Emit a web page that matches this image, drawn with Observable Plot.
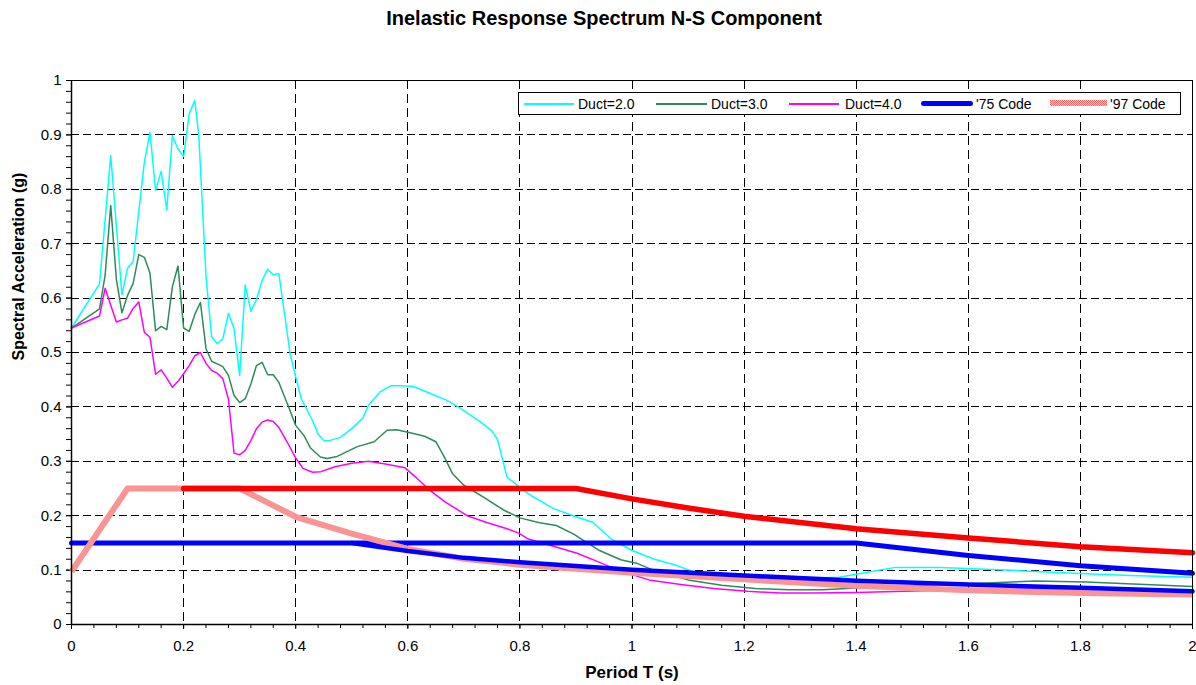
<!DOCTYPE html>
<html>
<head>
<meta charset="utf-8">
<script src="https://cdn.jsdelivr.net/npm/d3@7"></script>
<script src="https://cdn.jsdelivr.net/npm/@observablehq/plot@0.6"></script>
<style>
  html, body { margin: 0; padding: 0; background: #fff; }
  #wrap { position: relative; width: 1196px; height: 685px; font-family: "Liberation Sans", Arial, sans-serif; }
  #title { position: absolute; left: 0; top: 6px; width: 1196px; padding-left: 12px; box-sizing: border-box; text-align: center;
           font-weight: bold; font-size: 20px; line-height: 24px; color: #000; }
  #chart { position: absolute; left: 0; top: 38px; }
  #legend { position: absolute; left: 518px; top: 92px; width: 663px; height: 23px; box-sizing: border-box;
            border: 1px solid #000; background: #fff; font-size: 14px; color: #000; }
  .sw { position: absolute; }
  .lt { position: absolute; top: 2px; line-height: 18px; white-space: nowrap; }
</style>
</head>
<body>
<div id="wrap">
  <div id="title">Inelastic Response Spectrum N-S Component</div>
  <div id="chart"></div>
  <div id="legend"></div>
</div>
<script>
// ---- Data (period T in s, spectral acceleration in g) ----
const duct2 = [
  [0,0.545],[0.05,0.626],[0.07,0.862],[0.09,0.606],[0.10,0.655],[0.11,0.667],[0.13,0.85],[0.14,0.905],
  [0.15,0.798],[0.16,0.833],[0.17,0.762],[0.18,0.899],[0.19,0.874],[0.20,0.860],[0.21,0.939],[0.22,0.963],
  [0.227,0.90],[0.24,0.64],[0.25,0.529],[0.26,0.516],[0.27,0.525],[0.28,0.572],[0.29,0.544],[0.30,0.458],
  [0.31,0.624],[0.32,0.576],[0.33,0.597],[0.34,0.632],[0.35,0.653],[0.36,0.643],[0.37,0.645],[0.39,0.498],
  [0.40,0.455],[0.41,0.415],[0.43,0.375],[0.44,0.350],[0.45,0.338],[0.46,0.338],[0.48,0.344],[0.50,0.360],
  [0.52,0.380],[0.53,0.403],[0.55,0.427],[0.57,0.439],[0.59,0.439],[0.61,0.4375],[0.635,0.427],[0.67,0.412],
  [0.69,0.400],[0.73,0.372],[0.75,0.356],[0.76,0.340],[0.777,0.271],[0.80,0.252],[0.82,0.237],[0.86,0.213],
  [0.895,0.200],[0.93,0.188],[0.962,0.158],[1.0,0.136],[1.04,0.120],[1.075,0.110],[1.11,0.097],[1.18,0.090],
  [1.27,0.084],[1.37,0.087],[1.42,0.096],[1.47,0.105],[1.55,0.105],[1.62,0.102],[1.69,0.099],[1.75,0.096],
  [1.82,0.093],[1.89,0.090],[2.0,0.087]
];
const duct3 = [
  [0,0.545],[0.05,0.580],[0.06,0.642],[0.07,0.770],[0.08,0.635],[0.09,0.573],[0.10,0.605],[0.11,0.627],
  [0.12,0.680],[0.13,0.675],[0.14,0.646],[0.15,0.540],[0.16,0.548],[0.17,0.542],[0.18,0.621],[0.19,0.659],
  [0.20,0.545],[0.21,0.539],[0.22,0.570],[0.23,0.592],[0.24,0.507],[0.25,0.484],[0.26,0.479],[0.27,0.474],
  [0.28,0.458],[0.29,0.421],[0.30,0.408],[0.31,0.415],[0.32,0.442],[0.33,0.476],[0.34,0.482],[0.35,0.459],
  [0.36,0.459],[0.37,0.445],[0.39,0.393],[0.40,0.366],[0.415,0.347],[0.426,0.325],[0.444,0.308],[0.456,0.305],
  [0.474,0.309],[0.51,0.327],[0.54,0.336],[0.563,0.357],[0.58,0.358],[0.61,0.351],[0.63,0.346],[0.65,0.336],
  [0.665,0.308],[0.68,0.277],[0.70,0.256],[0.735,0.234],[0.77,0.211],[0.80,0.196],[0.835,0.187],[0.865,0.182],
  [0.896,0.166],[0.914,0.154],[0.94,0.137],[0.98,0.119],[1.01,0.112],[1.04,0.099],[1.10,0.082],[1.16,0.072],
  [1.22,0.066],[1.28,0.064],[1.34,0.064],[1.40,0.067],[1.55,0.0735],[1.60,0.075],[1.72,0.080],[1.81,0.078],
  [2.0,0.070]
];
const duct4 = [
  [0,0.545],[0.05,0.567],[0.06,0.618],[0.08,0.556],[0.09,0.560],[0.10,0.563],[0.11,0.581],[0.12,0.593],
  [0.13,0.537],[0.14,0.528],[0.15,0.460],[0.16,0.468],[0.17,0.453],[0.18,0.436],[0.19,0.447],[0.20,0.461],
  [0.21,0.476],[0.22,0.494],[0.23,0.500],[0.24,0.480],[0.25,0.467],[0.26,0.462],[0.27,0.452],[0.28,0.414],
  [0.29,0.315],[0.30,0.312],[0.31,0.320],[0.32,0.338],[0.33,0.360],[0.34,0.372],[0.35,0.376],[0.36,0.373],
  [0.37,0.362],[0.385,0.335],[0.40,0.306],[0.413,0.287],[0.43,0.280],[0.445,0.281],[0.47,0.290],[0.50,0.2965],
  [0.53,0.300],[0.56,0.295],[0.595,0.288],[0.614,0.271],[0.64,0.246],[0.667,0.225],[0.706,0.200],[0.742,0.187],
  [0.777,0.176],[0.798,0.168],[0.815,0.157],[0.863,0.143],[0.902,0.131],[0.938,0.116],[0.975,0.100],[1.03,0.082],
  [1.087,0.0735],[1.146,0.066],[1.206,0.061],[1.265,0.058],[1.32,0.058],[1.40,0.059],[1.59,0.064],[1.8,0.066],
  [2.0,0.063]
];
const code75 = [[0,0.15],[1.4,0.15],[1.6,0.127],[1.8,0.108],[2.0,0.094]];
const code75b = [[0.5,0.15],[0.6,0.135],[0.7,0.1225],[0.8,0.1145],[1.0,0.1005],[1.2,0.09],[1.4,0.0805],[1.6,0.0735],[1.8,0.0675],[2.0,0.061]];
const code97 = [[0,0.0975],[0.1,0.25],[0.3,0.25],[0.4,0.198],[0.5,0.167],[0.6,0.139],[0.7,0.121],[0.8,0.110],[1.0,0.095],[1.2,0.083],[1.4,0.071],[1.6,0.063],[1.8,0.058],[2.0,0.055]];
const code97b = [[0.2,0.25],[0.9,0.25],[1.0,0.231],[1.1,0.214],[1.2,0.199],[1.4,0.176],[1.6,0.159],[1.8,0.143],[2.0,0.132]];

const xTicks = [0,0.2,0.4,0.6,0.8,1.0,1.2,1.4,1.6,1.8,2.0];
const yTicks = [0,0.1,0.2,0.3,0.4,0.5,0.6,0.7,0.8,0.9,1.0];
const xMinor = d3.range(0, 51).map(i => i * 0.04);
const yMinor = d3.range(0, 51).map(i => i * 0.02);

const seriesNames = ["Duct=2.0","Duct=3.0","Duct=4.0","'75 Code","'97 Code"];
const seriesColors = ["#00ffff","#2e8b57","#ff00ff","#0000ff","#ff7a7a"];

const PATTERN_PLACEHOLDER = "#fe8081";
const fmt = d => String(+d.toFixed(1));
const XY = {x: d => d[0], y: d => d[1]};

const chart = Plot.plot({
  width: 1196,
  height: 647,
  marginLeft: 71,
  marginRight: 4,
  marginTop: 42,
  marginBottom: 61,
  x: {domain: [0, 2]},
  y: {domain: [0, 1]},
  style: {fontFamily: "'Liberation Sans', Arial, sans-serif", fontSize: "15px", background: "#fff", color: "#000"},
  marks: [
    Plot.ruleY(yTicks.filter(v => v > 0 && v < 1), {stroke: "#000", strokeWidth: 1, strokeDasharray: "8,4", shapeRendering: "crispEdges"}),
    Plot.ruleX(xTicks.filter(v => v > 0 && v < 2), {stroke: "#000", strokeWidth: 1, strokeDasharray: "9,5", shapeRendering: "crispEdges"}),
    Plot.axisX({ticks: xMinor, tickSize: 4, text: null, label: null, stroke: "#000"}),
    Plot.axisX({ticks: xTicks, tickSize: 5, tickPadding: 11, tickFormat: fmt, label: null, stroke: "#000", fontSize: 15}),
    Plot.axisY({ticks: yMinor, tickSize: 5, text: null, label: null, stroke: "#000"}),
    Plot.axisY({ticks: yTicks, tickSize: 5, tickPadding: 5, tickFormat: fmt, label: null, stroke: "#000", fontSize: 15}),
    Plot.line(duct2, {...XY, stroke: seriesColors[0], strokeWidth: 1.5}),
    Plot.line(duct3, {...XY, stroke: seriesColors[1], strokeWidth: 1.5}),
    Plot.line(duct4, {...XY, stroke: seriesColors[2], strokeWidth: 1.5}),
    Plot.line(code75, {...XY, stroke: seriesColors[3], strokeWidth: 5, strokeLinecap: "round"}),
    Plot.line(code97, {...XY, stroke: PATTERN_PLACEHOLDER, strokeWidth: 6, strokeLinecap: "butt"}),
    Plot.line(code75b, {...XY, stroke: "#0000ff", strokeWidth: 4.5}),
    Plot.line(code97b, {...XY, stroke: "#ff0000", strokeWidth: 5.5, strokeLinecap: "round"}),
    Plot.frame({stroke: "#000", strokeWidth: 1, shapeRendering: "crispEdges"}),
    Plot.ruleX([0], {stroke: "#000", strokeWidth: 1.5}),
    Plot.ruleY([0], {stroke: "#000", strokeWidth: 1.5}),
    Plot.text(["Period T (s)"], {text: d => d, frameAnchor: "bottom", dy: 53, fontWeight: "bold", fontSize: 17}),
    Plot.text(["Spectral Acceleration (g)"], {text: d => d, frameAnchor: "left", dx: -53, dy: 8, rotate: -90, fontWeight: "bold", fontSize: 16})
  ]
});

// checkered pattern for the '97 Code line
const svg = d3.select(chart);
const defs = svg.insert("defs", ":first-child");
const pat = defs.append("pattern").attr("id", "chk97").attr("patternUnits", "userSpaceOnUse").attr("width", 2).attr("height", 2);
pat.append("rect").attr("width", 2).attr("height", 2).attr("fill", "#f46a6a");
pat.append("rect").attr("x", 0).attr("y", 0).attr("width", 1).attr("height", 1).attr("fill", "#ffc6c6");
pat.append("rect").attr("x", 1).attr("y", 1).attr("width", 1).attr("height", 1).attr("fill", "#ffb0b0");
svg.selectAll(`[stroke="${PATTERN_PLACEHOLDER}"]`).attr("stroke", "url(#chk97)");

document.getElementById("chart").appendChild(chart);

// legend
const legend = document.getElementById("legend");
const legendPos = [
  {l: 5, w: 50, t: 59}, {l: 137, w: 51, t: 192}, {l: 270, w: 50, t: 326}, {l: 402, w: 52, t: 457}, {l: 531, w: 57, t: 591}
];
const legendH = [2, 2, 2, 5, 6];
const legendTop = [10, 10, 10, 8, 7];
seriesNames.forEach((name, i) => {
  const p = legendPos[i];
  const sw = document.createElement("div");
  sw.className = "sw";
  sw.style.left = p.l + "px";
  sw.style.width = p.w + "px";
  sw.style.height = legendH[i] + "px";
  sw.style.top = legendTop[i] + "px";
  if (i === 4) {
    sw.style.background = "repeating-conic-gradient(#ffc0c0 0 25%, #f46a6a 0 50%) 0 0 / 2px 2px";
  } else {
    sw.style.backgroundColor = seriesColors[i];
  }
  if (i === 3) sw.style.borderRadius = "3px";
  legend.appendChild(sw);
  const tx = document.createElement("span");
  tx.className = "lt";
  tx.style.left = p.t + "px";
  tx.textContent = name;
  legend.appendChild(tx);
});
</script>
</body>
</html>
